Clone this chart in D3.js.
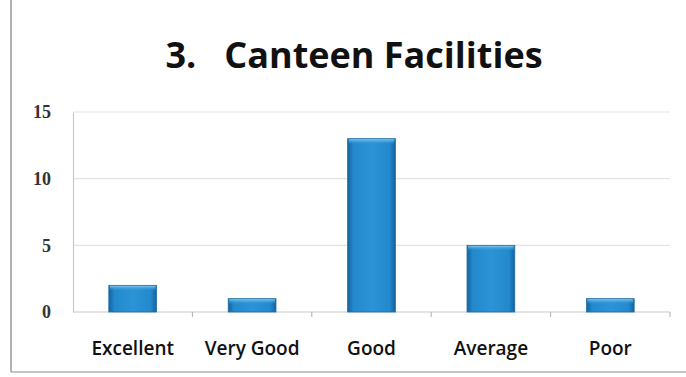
<!DOCTYPE html>
<html>
<head>
<meta charset="utf-8">
<script src="https://cdn.jsdelivr.net/npm/d3@7/dist/d3.min.js"></script>
<style>
  html, body { margin: 0; padding: 0; background: #fff; }
  svg { display: block; }
</style>
</head>
<body>
<svg id="chart" width="686" height="377"></svg>
<script>
// Survey responses for canteen facilities
const categories = ["Excellent", "Very Good", "Good", "Average", "Poor"];
const counts = [2, 1, 13, 5, 1];
const yTicks = [0, 5, 10, 15];
const titleText = "3.   Canteen Facilities";

const W = 686, H = 377;
const margin = { left: 73, right: 16, top: 112, bottom: 64 };
const svg = d3.select("#chart");

// Frame lines along the left and bottom edges
svg.append("line").attr("x1", 11).attr("x2", 11).attr("y1", 0).attr("y2", 372)
  .attr("stroke", "#9a9a9a").attr("stroke-width", 1.5);
svg.append("line").attr("x1", 11).attr("x2", W).attr("y1", 372).attr("y2", 372)
  .attr("stroke", "#b0b0b0").attr("stroke-width", 1.5);

const x = d3.scaleBand().domain(categories)
  .range([margin.left, W - margin.right])
  .paddingInner(0.6).paddingOuter(0.3);
const y = d3.scaleLinear().domain([0, 15]).range([H - margin.bottom - 1, margin.top]);

// Bar gradient: darker edges, brighter centre
const defs = svg.append("defs");
const g = defs.append("linearGradient").attr("id", "barGrad")
  .attr("x1", "0%").attr("x2", "100%").attr("y1", "0%").attr("y2", "0%");
g.append("stop").attr("offset", "0%").attr("stop-color", "#16629c");
g.append("stop").attr("offset", "12%").attr("stop-color", "#2389cc");
g.append("stop").attr("offset", "50%").attr("stop-color", "#2b93d6");
g.append("stop").attr("offset", "88%").attr("stop-color", "#2389cc");
g.append("stop").attr("offset", "100%").attr("stop-color", "#16629c");
const gt = defs.append("linearGradient").attr("id", "topGrad")
  .attr("x1", "0%").attr("x2", "0%").attr("y1", "0%").attr("y2", "100%");
gt.append("stop").attr("offset", "0%").attr("stop-color", "#7cc4ee");
gt.append("stop").attr("offset", "100%").attr("stop-color", "#2f98d8").attr("stop-opacity", 0);

// Gridlines
svg.append("g").selectAll("line").data(yTicks.filter(d => d > 0)).join("line")
  .attr("x1", margin.left).attr("x2", W - margin.right)
  .attr("y1", d => y(d)).attr("y2", d => y(d))
  .attr("stroke", "#e4e4e4").attr("stroke-width", 1.2);

// Y axis
const yAxis = svg.append("g").attr("transform", `translate(${margin.left},0)`)
  .call(d3.axisLeft(y).tickValues(yTicks).tickSize(0).tickPadding(22));
yAxis.select(".domain").attr("stroke", "#c8c8c8").attr("stroke-width", 1.2);
yAxis.selectAll("text")
  .attr("font-family", "'Liberation Serif', 'DejaVu Serif', serif")
  .attr("font-weight", "bold").attr("font-size", 18).attr("fill", "#333");

// X axis with ticks at category boundaries
const xAxisG = svg.append("g").attr("transform", `translate(0,${y(0)})`);
xAxisG.append("line").attr("x1", margin.left).attr("x2", W - margin.right)
  .attr("stroke", "#c8c8c8").attr("stroke-width", 1.2);
const boundaries = categories.map(c => x(c) + x.bandwidth() + x.step() * x.paddingInner() / 2);
xAxisG.selectAll(".tk").data(boundaries).join("line").attr("class", "tk")
  .attr("x1", d => d).attr("x2", d => d).attr("y1", 0).attr("y2", 5)
  .attr("stroke", "#b0b0b0");
xAxisG.selectAll(".lbl").data(categories).join("text").attr("class", "lbl")
  .attr("x", d => x(d) + x.bandwidth() / 2).attr("y", 43)
  .attr("text-anchor", "middle")
  .attr("font-family", "'Open Sans', 'Noto Sans', sans-serif")
  .attr("font-weight", 600)
  .attr("font-size", 19).attr("fill", "#111")
  .text(d => d);

// Bars
const data = categories.map((c, i) => ({ c, v: counts[i] }));
const bars = svg.append("g").selectAll("g").data(data).join("g");
bars.append("rect")
  .attr("x", d => x(d.c)).attr("width", x.bandwidth())
  .attr("y", d => y(d.v)).attr("height", d => y(0) - y(d.v))
  .attr("fill", "url(#barGrad)").attr("stroke", "#1d6ea8").attr("stroke-width", 0.8);
bars.append("rect")
  .attr("x", d => x(d.c) + 1).attr("width", x.bandwidth() - 2)
  .attr("y", d => y(d.v) + 0.5).attr("height", 5)
  .attr("fill", "url(#topGrad)");

// Title
svg.append("text").attr("x", 354).attr("y", 68).attr("text-anchor", "middle")
  .attr("font-family", "'Open Sans', 'Noto Sans', sans-serif")
  .attr("font-weight", "bold").attr("font-size", 36).attr("fill", "#111")
  .attr("xml:space", "preserve").style("white-space", "pre")
  .text(titleText);
</script>
</body>
</html>
